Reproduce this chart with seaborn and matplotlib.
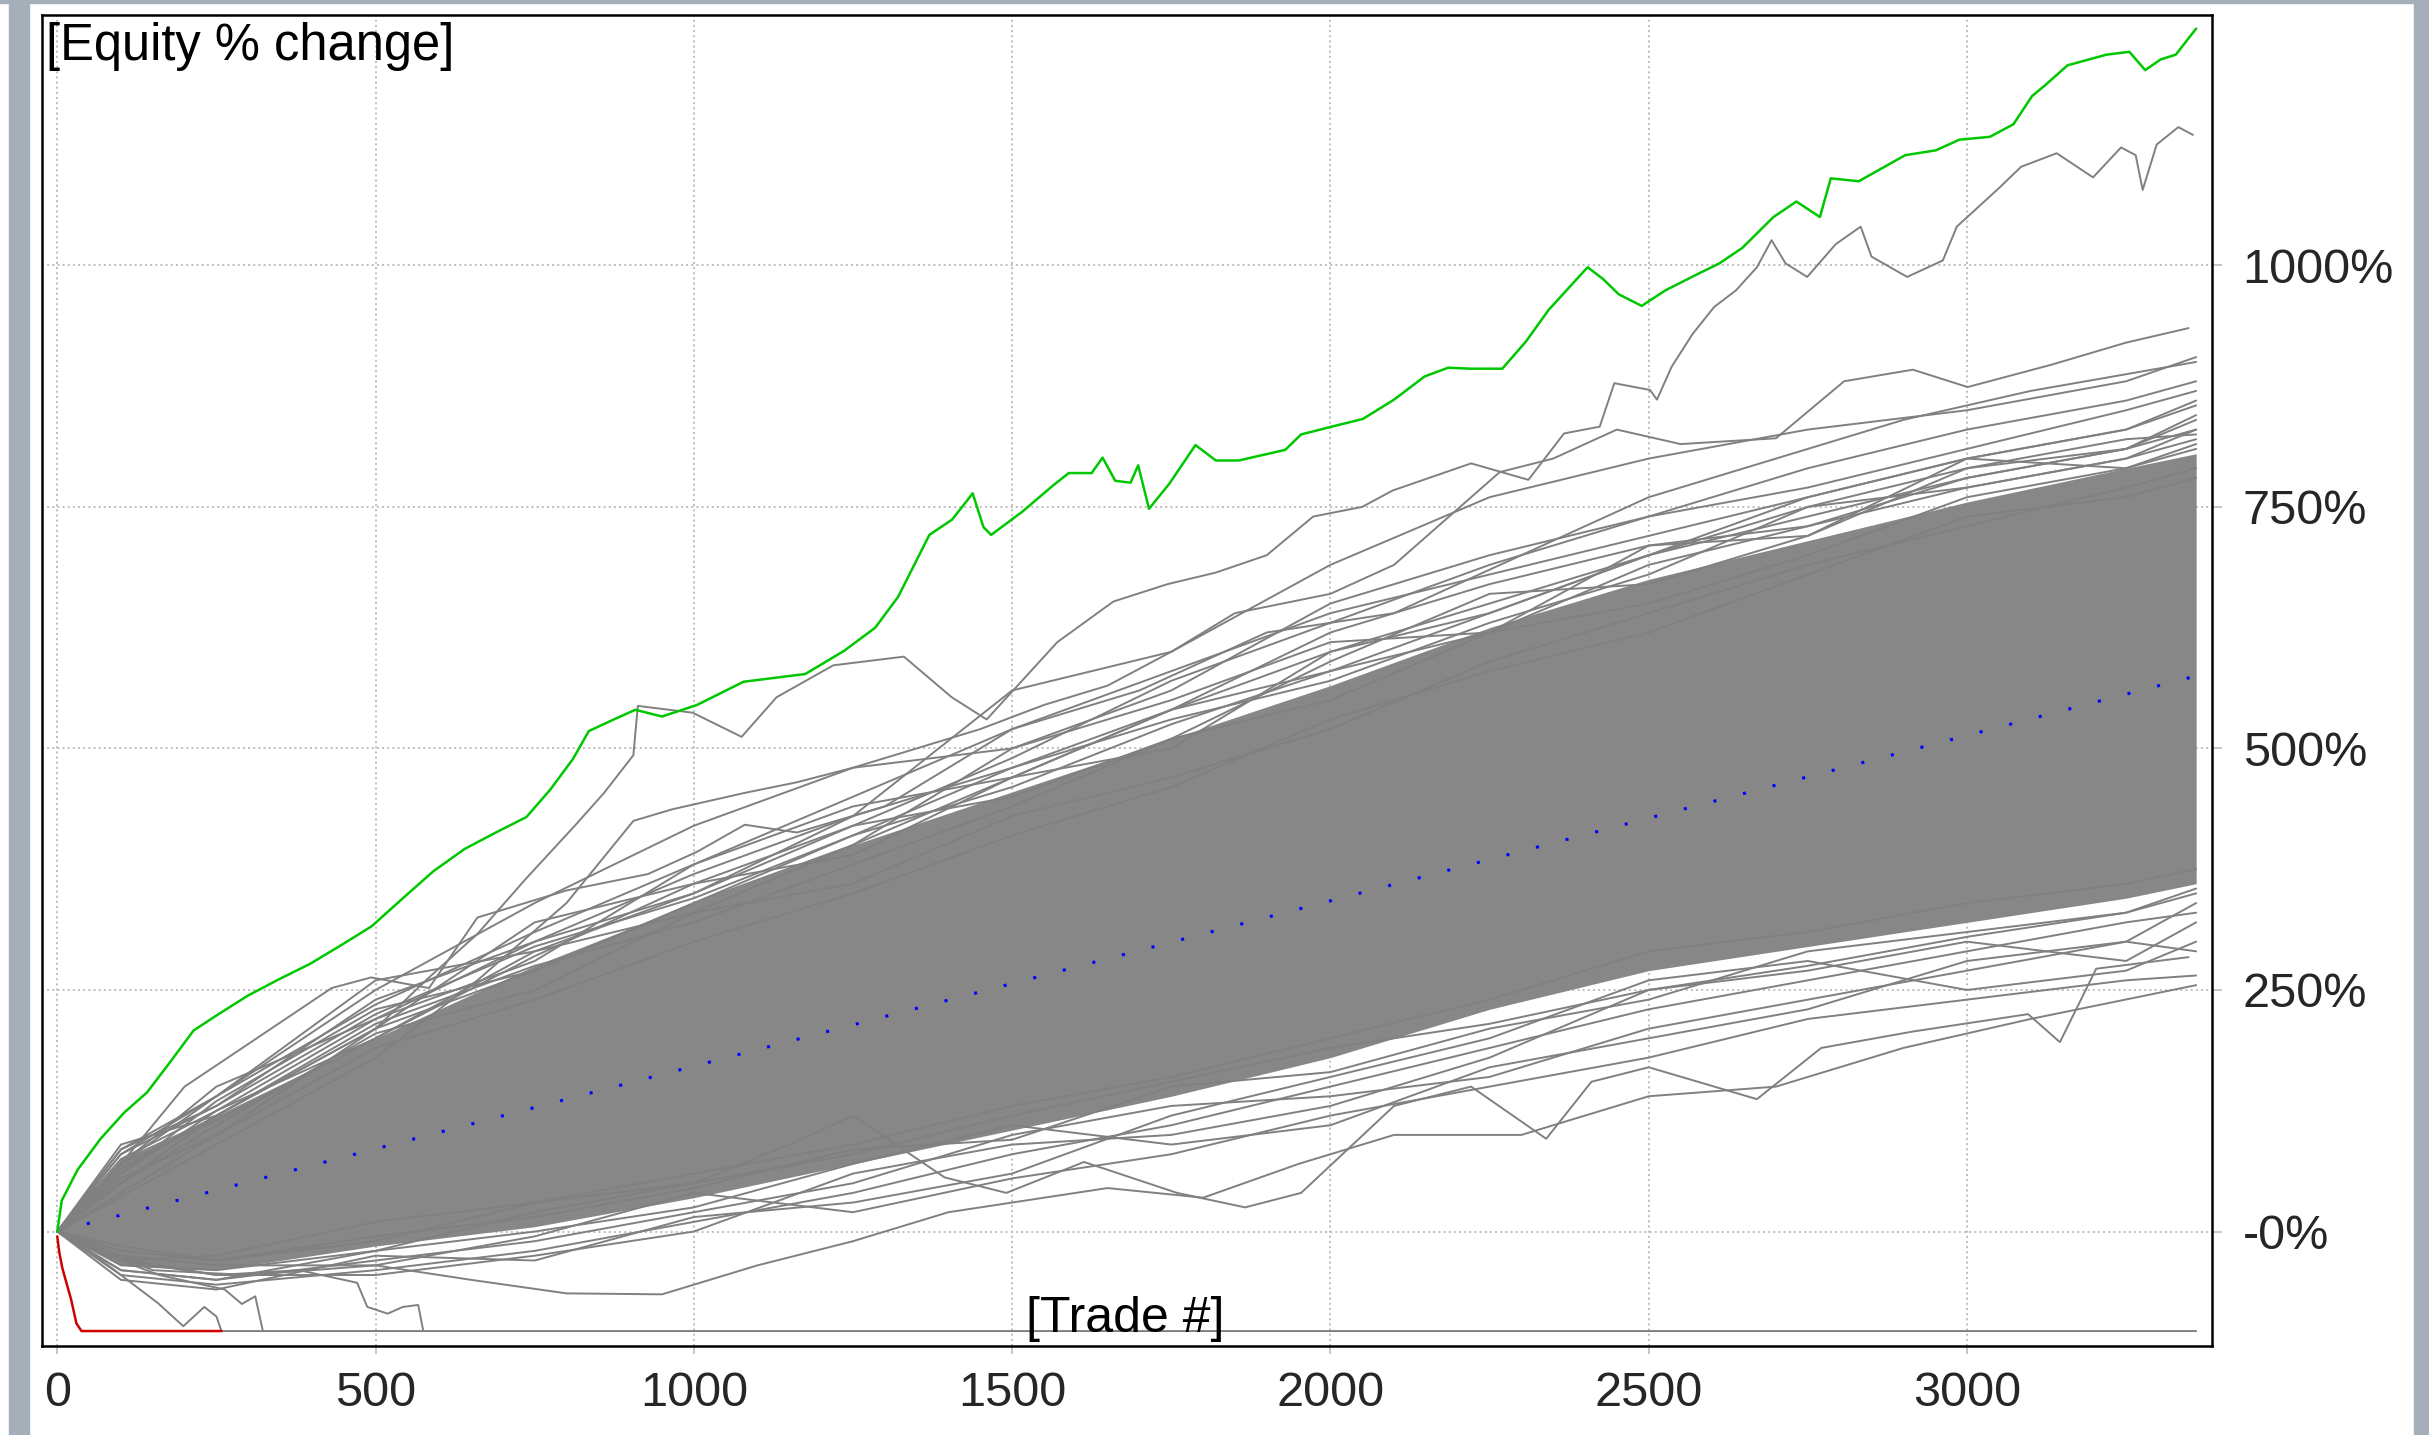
"""
Monte Carlo equity curves, redrawn from the reference screenshot.
"""

import matplotlib
matplotlib.use("Agg")
import pandas as pd
import matplotlib.pyplot as plt
from matplotlib.patches import Rectangle
import seaborn as sns

GRAY = "#808080"
GREEN = "#00c800"
RED = "#d00000"
BLUE = "#0000ff"
RUIN = -103

# checkpoints (trade #) for the dense band and the fringe runs
trade_pts = [0, 100, 250, 500, 750, 1000, 1250, 1500, 1750, 2000, 2250, 2500, 2750, 3000, 3250, 3360]

# edges of the solid grey core, % change
band_upper = [0, 75, 120, 200, 275, 340, 400, 455, 510, 565, 625, 675, 715, 755, 790, 805]
band_lower = [0, -35, -40, -15, 5, 35, 70, 105, 140, 180, 230, 270, 295, 320, 345, 360]

# single runs just outside the core, % change at trade_pts
fringe_runs = [
    [0, 80, 130, 240, 300, 350, 430, 560, 600, 690, 760, 800, 830, 850, 880, 905],
    [0, 85, 140, 260, 290, 330, 400, 500, 560, 650, 700, 740, 790, 830, 860, 880],
    [0, 70, 150, 220, 280, 380, 440, 470, 500, 600, 640, 700, 760, 800, 830, 855],
    [0, 90, 120, 210, 320, 360, 390, 470, 540, 580, 620, 690, 730, 780, 810, 840],
    [0, 60, 135, 230, 270, 340, 410, 480, 530, 570, 630, 680, 750, 770, 800, 830],
    [0, 75, 125, 200, 290, 350, 420, 450, 510, 590, 660, 670, 720, 790, 820, 825],
    [0, 65, 120, 215, 275, 320, 380, 440, 510, 550, 620, 710, 720, 800, 790, 815],
    [0, 70, 140, 250, 340, 420, 480, 500, 550, 610, 620, 650, 700, 760, 790, 810],
    [0, 50, 110, 205, 250, 330, 360, 430, 470, 520, 590, 640, 690, 730, 770, 790],
    [0, 55, 100, 190, 240, 300, 350, 410, 460, 530, 580, 620, 680, 740, 760, 780],
    [0, 60, 125, 220, 300, 370, 430, 480, 540, 600, 650, 700, 740, 780, 810, 830],
    [0, 80, 140, 235, 310, 380, 450, 520, 580, 640, 680, 720, 760, 800, 830, 860],
    [0, 70, 115, 200, 285, 360, 420, 490, 570, 630, 690, 740, 770, 810, 850, 870],
    [0, 85, 130, 225, 295, 345, 410, 460, 525, 580, 640, 700, 750, 790, 810, 845],
    [0, 50, 120, 210, 270, 340, 400, 470, 540, 620, 670, 710, 730, 770, 800, 820],
    [0, -45, -55, -40, -20, 10, 40, 80, 110, 150, 190, 230, 260, 290, 320, 330],
    [0, -40, -50, -30, -10, 20, 50, 100, 130, 140, 160, 210, 240, 270, 300, 290],
    [0, -30, -45, -45, -25, 0, 60, 90, 100, 130, 180, 250, 270, 300, 280, 320],
    [0, -50, -60, -25, -30, 15, 30, 60, 120, 160, 200, 260, 280, 250, 270, 300],
    [0, -35, -40, -20, 0, 25, 70, 110, 90, 110, 170, 200, 230, 280, 300, 340],
    [0, -25, -35, -35, -5, 40, 20, 55, 80, 120, 150, 180, 220, 240, 260, 265],
    [0, -20, -30, -5, 15, 45, 85, 95, 150, 165, 210, 240, 290, 310, 330, 350],
    [0, -30, -25, 10, 30, 60, 90, 130, 160, 200, 240, 290, 310, 340, 360, 375],
    [0, -40, -50, -20, 20, 50, 80, 120, 155, 190, 215, 250, 275, 305, 330, 355],
]

# runs read in more detail, (trade #, % change)
best_run = [
    (0, 0), (7, 32), (32, 64), (68, 96), (105, 123), (141, 144), (178, 176), (214, 208),
    (251, 224), (299, 244), (348, 261), (397, 277), (445, 296), (494, 316), (543, 345),
    (591, 373), (640, 396), (689, 413), (737, 429), (774, 457), (810, 489), (835, 518),
    (871, 529), (908, 540), (950, 533), (1005, 545), (1078, 569), (1175, 577), (1236, 601),
    (1285, 625), (1321, 657), (1370, 721), (1406, 737), (1438, 764), (1455, 729), (1467, 721),
    (1516, 745), (1564, 772), (1589, 785), (1625, 785), (1642, 801), (1662, 777), (1686, 775),
    (1698, 793), (1715, 748), (1747, 774), (1788, 814), (1820, 798), (1856, 798), (1929, 809),
    (1954, 825), (2002, 833), (2051, 841), (2100, 861), (2148, 885), (2185, 894), (2221, 893),
    (2270, 893), (2307, 921), (2343, 954), (2404, 998), (2428, 986), (2453, 970), (2489, 958),
    (2526, 974), (2574, 990), (2611, 1002), (2647, 1018), (2696, 1050), (2732, 1066),
    (2769, 1050), (2786, 1090), (2830, 1087), (2903, 1114), (2951, 1119), (2988, 1130),
    (3036, 1133), (3073, 1146), (3102, 1175), (3122, 1186), (3158, 1207), (3219, 1218),
    (3255, 1221), (3280, 1202), (3304, 1213), (3328, 1218), (3360, 1245),
]
second_run = [
    (0, 0), (100, 40), (250, 100), (500, 210), (584, 263), (660, 308), (736, 365), (813, 420),
    (859, 454), (905, 493), (912, 544), (998, 537), (1075, 512), (1130, 553), (1219, 586),
    (1330, 595), (1405, 553), (1460, 530), (1571, 610), (1659, 652), (1744, 670), (1820, 682),
    (1900, 700), (1973, 740), (2050, 750), (2098, 767), (2221, 795), (2311, 778), (2367, 826),
    (2423, 833), (2446, 878), (2502, 871), (2513, 861), (2536, 895), (2569, 929), (2603, 957),
    (2637, 974), (2670, 998), (2693, 1026), (2715, 1002), (2749, 988), (2794, 1022),
    (2833, 1040), (2850, 1009), (2906, 988), (2962, 1005), (2984, 1040), (3052, 1081),
    (3085, 1102), (3141, 1116), (3198, 1091), (3242, 1122), (3265, 1114), (3276, 1078),
    (3298, 1125), (3332, 1143), (3355, 1135),
]
third_run = [
    (0, 0), (250, 90), (500, 180), (660, 260), (800, 340), (905, 425), (966, 437), (1080, 454),
    (1162, 465), (1250, 480), (1350, 500), (1450, 520), (1550, 545), (1650, 565), (1750, 600),
    (1850, 640), (2000, 660), (2100, 690), (2266, 786), (2350, 800), (2450, 830), (2550, 815),
    (2700, 821), (2807, 880), (2915, 892), (3001, 874), (3132, 897), (3250, 920), (3348, 935),
]
upper_run = [
    (0, 0), (100, 70), (200, 150), (293, 191), (431, 252), (493, 263), (584, 252), (660, 325),
    (800, 353), (928, 370), (1005, 393), (1080, 421), (1162, 413), (1300, 440), (1500, 520),
    (1700, 560), (1900, 620), (2100, 640), (2300, 700), (2500, 760), (2700, 800), (2900, 840),
    (3100, 870), (3360, 900),
]
low_run_a = [
    (0, 0), (100, -15), (250, -30), (500, -10), (750, 30), (1000, 50), (1150, 90), (1250, 120),
    (1394, 56), (1491, 40), (1613, 72), (1759, 40), (1866, 25), (1954, 40), (2100, 130),
    (2221, 150), (2339, 96), (2410, 155), (2500, 170), (2670, 137), (2771, 190), (2915, 207),
    (3096, 225), (3146, 196), (3203, 272), (3348, 284),
]
low_run_b = [
    (0, 0), (150, -40), (300, -45), (500, -35), (650, -50), (800, -64), (950, -65), (1100, -35),
    (1250, -10), (1400, 20), (1500, 30), (1650, 45), (1800, 35), (1950, 70), (2100, 100),
    (2300, 100), (2500, 140), (2700, 150), (2900, 190), (3100, 220), (3360, 255),
]
ruin_run_a = [
    (0, 0), (40, -15), (90, -40), (130, -60), (158, -74), (198, -98), (231, -78), (250, -88),
    (258, RUIN), (3360, RUIN),
]
ruin_run_b = [(0, 0), (80, -25), (160, -45), (263, -60), (290, -75), (311, -67), (323, RUIN)]
ruin_run_c = [
    (0, 0), (120, -30), (250, -45), (380, -40), (471, -53), (487, -78), (519, -85), (543, -78),
    (567, -76), (575, RUIN),
]
worst_run = [(0, -5), (3, -21), (8, -38), (22, -71), (30, -95), (38, RUIN), (258, RUIN)]

mean_trade = [0, 3360]
mean_equity = [0, 575]

x_ticks = [0, 500, 1000, 1500, 2000, 2500, 3000]
y_ticks = [0, 250, 500, 750, 1000]
y_labels = ["-0%", "250%", "500%", "750%", "1000%"]


def to_frame(runs):
    rows = []
    for name, pts in runs.items():
        for t, v in pts:
            rows.append({"run": name, "trade": t, "equity": v})
    return pd.DataFrame(rows)


def main():
    sns.set_style("white")
    plt.rcParams["font.family"] = ["Liberation Sans", "DejaVu Sans"]

    fig = plt.figure(figsize=(24.29, 14.35), dpi=100)
    # window chrome of the screenshot
    fig.patches.append(Rectangle((9 / 2429, 0), 20 / 2429, 1, transform=fig.transFigure,
                                 color="#a5afba", zorder=0))
    fig.patches.append(Rectangle((2414 / 2429, 0), 15 / 2429, 1, transform=fig.transFigure,
                                 color="#a5afba", zorder=0))
    fig.patches.append(Rectangle((0, 1 - 3 / 1435), 1, 3 / 1435, transform=fig.transFigure,
                                 color="#a5afba", zorder=0))

    ax = fig.add_axes([0.01729, 0.0620, 0.8934, 0.9275])

    runs = {f"fringe{i}": list(zip(trade_pts, vals)) for i, vals in enumerate(fringe_runs)}
    runs.update({
        "second": second_run, "third": third_run, "upper": upper_run,
        "low_a": low_run_a, "low_b": low_run_b,
        "ruin_a": ruin_run_a, "ruin_b": ruin_run_b, "ruin_c": ruin_run_c,
    })
    gray_df = to_frame(runs)
    best_df = to_frame({"best": best_run})
    worst_df = to_frame({"worst": worst_run})

    # the overlapping runs in the middle read as one solid grey mass
    ax.fill_between(trade_pts, band_lower, band_upper, color="#878787", lw=0, zorder=2)
    sns.lineplot(x=mean_trade, y=mean_equity, color=BLUE, lw=2.2, ls=(0, (1, 9)),
                 ax=ax, zorder=3)
    sns.lineplot(data=gray_df, x="trade", y="equity", units="run", estimator=None,
                 sort=False, color=GRAY, lw=1.4, ax=ax, legend=False, zorder=4)
    sns.lineplot(data=worst_df, x="trade", y="equity", sort=False, color=RED, lw=1.8,
                 ax=ax, zorder=5)
    sns.lineplot(data=best_df, x="trade", y="equity", sort=False, color=GREEN, lw=1.8,
                 ax=ax, zorder=6)

    ax.set_xlim(-24, 3385)
    ax.set_ylim(-118.5, 1259)
    ax.set_xticks(x_ticks)
    ax.set_xticklabels([str(t) for t in x_ticks])
    ax.set_yticks(y_ticks)
    ax.set_yticklabels(y_labels)
    ax.yaxis.tick_right()
    ax.set_xlabel("")
    ax.set_ylabel("")

    ax.grid(True, ls=":", color="#bdbdbd", lw=1.4)
    ax.set_axisbelow(True)
    ax.tick_params(axis="x", direction="out", length=6, width=1.2, color="#bdbdbd",
                   pad=12, labelsize=35, bottom=True)
    ax.tick_params(axis="y", direction="out", length=7, width=1.2, color="#bdbdbd",
                   pad=15, labelsize=35, right=True, left=False)
    for side in ax.spines.values():
        side.set_visible(True)
        side.set_color("black")
        side.set_linewidth(1.8)

    ax.text(0.002, 0.995, "[Equity % change]", transform=ax.transAxes, ha="left",
            va="top", fontsize=36.5, color="black", zorder=7)
    ax.text(0.499, 0.003, "[Trade #]", transform=ax.transAxes, ha="center",
            va="bottom", fontsize=36, color="black", zorder=7)

    fig.savefig("out.png", dpi=100)


if __name__ == "__main__":
    main()
